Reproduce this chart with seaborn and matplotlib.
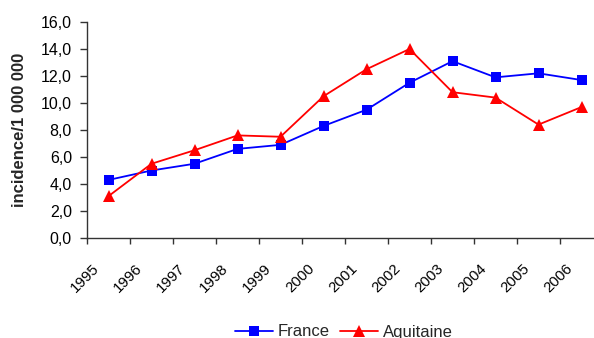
import matplotlib
matplotlib.use("Agg")
import matplotlib.pyplot as plt
from matplotlib.ticker import FixedLocator, FuncFormatter
import numpy as np
import pandas as pd
import seaborn as sns

years = ["1995", "1996", "1997", "1998", "1999", "2000",
         "2001", "2002", "2003", "2004", "2005", "2006"]
france = [4.3, 5.0, 5.5, 6.6, 6.9, 8.3, 9.5, 11.5, 13.1, 11.9, 12.2, 11.7]
aquitaine = [3.1, 5.5, 6.5, 7.6, 7.5, 10.5, 12.5, 14.0, 10.8, 10.4, 8.4, 9.7]
series_names = ["France", "Aquitaine"]
y_ticks = [0, 2, 4, 6, 8, 10, 12, 14, 16]

sns.set_theme(style="white")
plt.rcParams["font.family"] = ["Liberation Sans", "DejaVu Sans"]

pos = np.arange(len(years))
df = pd.DataFrame({
    "pos": np.concatenate([pos, pos]),
    "value": france + aquitaine,
    "region": [series_names[0]] * len(years) + [series_names[1]] * len(years),
})

fig = plt.figure(figsize=(5.94, 3.38), dpi=100)
ax = fig.add_axes([87 / 594, 1 - 238 / 338, 516 / 594, 216 / 338])

sns.lineplot(data=df, x="pos", y="value", hue="region", style="region",
             palette={"France": "#0000FF", "Aquitaine": "#FF0000"},
             markers={"France": "s", "Aquitaine": "^"},
             dashes=False, markersize=7, markeredgewidth=0,
             linewidth=1.3, ax=ax, legend=True)
for line in ax.lines:
    if line.get_color() == "#FF0000":
        line.set_markersize(8.5)

ax.set_xlim(-0.5, len(years) - 0.5)
ax.set_ylim(0, 16)
ax.yaxis.set_major_locator(FixedLocator(y_ticks))
ax.yaxis.set_major_formatter(FuncFormatter(lambda v, p: f"{v:.1f}".replace(".", ",")))

# year labels sit left of each category centre, slanted
ax.set_xticks(pos - 0.38)
ax.set_xticklabels(years, rotation=45, ha="right", va="top", rotation_mode="anchor")
ax.set_xticks(np.arange(-0.5, len(years), 1.0), minor=True)
ax.tick_params(axis="x", which="major", length=0, pad=17, labelsize=10.8, colors="#000000")
ax.tick_params(axis="x", which="minor", length=4, width=1, direction="out",
               color="#333333", bottom=True)
ax.tick_params(axis="y", length=5, width=1, direction="out", color="#333333",
               left=True, labelsize=11.5, labelcolor="#000000", pad=5.8)

for side in ("top", "right"):
    ax.spines[side].set_visible(False)
for side in ("left", "bottom"):
    ax.spines[side].set_color("#333333")
    ax.spines[side].set_linewidth(1)

ax.set_xlabel("")
ax.set_ylabel("incidence/1 000 000", fontsize=12, fontweight="bold")
ax.yaxis.set_label_coords(-60 / 516, 0.5)

handles, labels = ax.get_legend_handles_labels()
ax.get_legend().remove()
fig.legend(handles, labels, loc="center", bbox_to_anchor=(344 / 594, 1 - 332 / 338),
           ncol=2, frameon=False, fontsize=12, handlelength=2.3,
           columnspacing=0.6, handletextpad=0.3)

fig.savefig("out.png", dpi=100)
